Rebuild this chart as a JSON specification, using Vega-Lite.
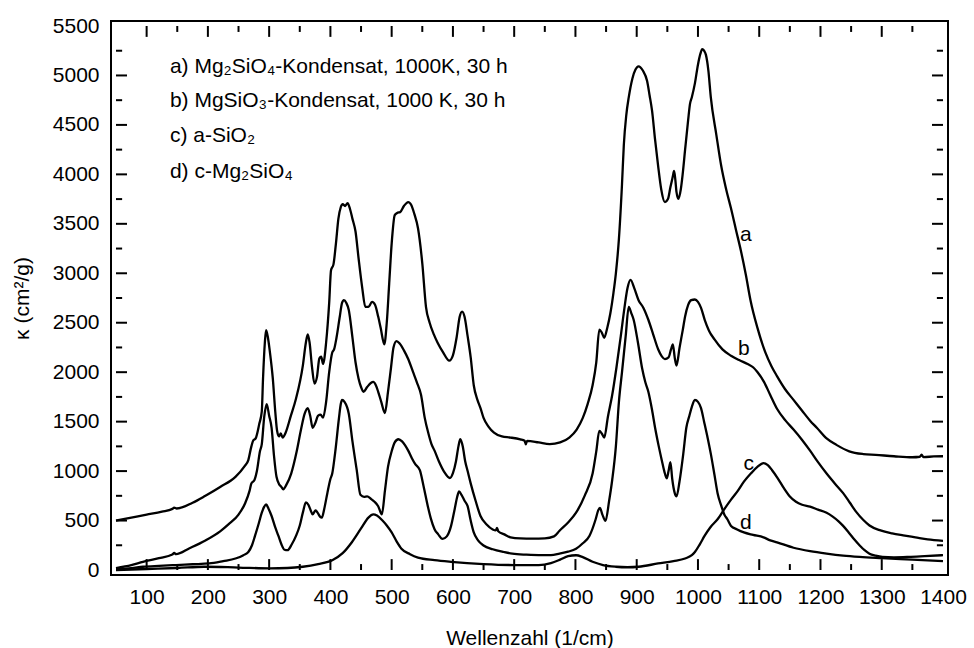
{
  "$schema": "https://vega.github.io/schema/vega-lite/v6.json",
  "width": 837,
  "height": 554,
  "autosize": {"type": "none"},
  "padding": {"left": 111, "top": 21, "right": 26, "bottom": 73},
  "background": "white",
  "config": {
    "view": {"stroke": "black", "strokeWidth": 2},
    "font": "Liberation Sans",
    "axis": {
      "domain": false,
      "ticks": false,
      "grid": false,
      "labelColor": "black",
      "labelFont": "Liberation Sans",
      "labelFontSize": 21,
      "titleFont": "Liberation Sans",
      "titleFontSize": 21,
      "titleFontWeight": "normal",
      "titleColor": "black",
      "labelFlush": false,
      "labelOverlap": false
    }
  },
  "resolve": {"axis": {"x": "independent", "y": "independent"}},
  "datasets": {
    "curves": [
      {"s":"a","x":50,"y":500},{"s":"a","x":75,"y":530},{"s":"a","x":100,"y":560},{"s":"a","x":125,"y":590},{"s":"a","x":142,"y":618},{"s":"a","x":145,"y":630},{"s":"a","x":149,"y":622},{"s":"a","x":175,"y":680},{"s":"a","x":196,"y":751},{"s":"a","x":220,"y":840},{"s":"a","x":245,"y":942},{"s":"a","x":260,"y":1050},{"s":"a","x":266,"y":1111},{"s":"a","x":271,"y":1250},{"s":"a","x":274,"y":1309},{"s":"a","x":278,"y":1330},{"s":"a","x":284,"y":1480},{"s":"a","x":288,"y":1604},{"s":"a","x":290,"y":1934},{"s":"a","x":293,"y":2300},{"s":"a","x":295,"y":2424},{"s":"a","x":298,"y":2350},{"s":"a","x":301,"y":2215},{"s":"a","x":306,"y":1934},{"s":"a","x":310,"y":1600},{"s":"a","x":313,"y":1406},{"s":"a","x":316,"y":1350},{"s":"a","x":319,"y":1380},{"s":"a","x":322,"y":1339},{"s":"a","x":327,"y":1390},{"s":"a","x":335,"y":1550},{"s":"a","x":344,"y":1736},{"s":"a","x":355,"y":2067},{"s":"a","x":360,"y":2300},{"s":"a","x":363,"y":2381},{"s":"a","x":366,"y":2300},{"s":"a","x":370,"y":2050},{"s":"a","x":374,"y":1885},{"s":"a","x":378,"y":1950},{"s":"a","x":382,"y":2140},{"s":"a","x":385,"y":2156},{"s":"a","x":388,"y":2083},{"s":"a","x":393,"y":2300},{"s":"a","x":398,"y":2700},{"s":"a","x":401,"y":3030},{"s":"a","x":405,"y":3090},{"s":"a","x":409,"y":3300},{"s":"a","x":413,"y":3550},{"s":"a","x":417,"y":3670},{"s":"a","x":420,"y":3700},{"s":"a","x":424,"y":3680},{"s":"a","x":428,"y":3710},{"s":"a","x":432,"y":3650},{"s":"a","x":436,"y":3550},{"s":"a","x":441,"y":3422},{"s":"a","x":446,"y":3150},{"s":"a","x":452,"y":2850},{"s":"a","x":457,"y":2661},{"s":"a","x":462,"y":2660},{"s":"a","x":468,"y":2711},{"s":"a","x":473,"y":2680},{"s":"a","x":478,"y":2562},{"s":"a","x":482,"y":2450},{"s":"a","x":488,"y":2282},{"s":"a","x":492,"y":2500},{"s":"a","x":496,"y":2900},{"s":"a","x":500,"y":3300},{"s":"a","x":505,"y":3588},{"s":"a","x":509,"y":3610},{"s":"a","x":514,"y":3620},{"s":"a","x":520,"y":3680},{"s":"a","x":527,"y":3720},{"s":"a","x":532,"y":3690},{"s":"a","x":537,"y":3600},{"s":"a","x":543,"y":3455},{"s":"a","x":550,"y":3100},{"s":"a","x":556,"y":2661},{"s":"a","x":562,"y":2500},{"s":"a","x":569,"y":2380},{"s":"a","x":575,"y":2298},{"s":"a","x":584,"y":2200},{"s":"a","x":594,"y":2116},{"s":"a","x":600,"y":2170},{"s":"a","x":606,"y":2350},{"s":"a","x":611,"y":2560},{"s":"a","x":615,"y":2612},{"s":"a","x":619,"y":2560},{"s":"a","x":624,"y":2364},{"s":"a","x":629,"y":2150},{"s":"a","x":634,"y":1868},{"s":"a","x":640,"y":1720},{"s":"a","x":645,"y":1637},{"s":"a","x":650,"y":1538},{"s":"a","x":658,"y":1450},{"s":"a","x":667,"y":1389},{"s":"a","x":680,"y":1350},{"s":"a","x":694,"y":1339},{"s":"a","x":710,"y":1320},{"s":"a","x":717,"y":1306},{"s":"a","x":719,"y":1270},{"s":"a","x":721,"y":1306},{"s":"a","x":740,"y":1290},{"s":"a","x":758,"y":1273},{"s":"a","x":775,"y":1290},{"s":"a","x":790,"y":1339},{"s":"a","x":802,"y":1420},{"s":"a","x":812,"y":1538},{"s":"a","x":820,"y":1680},{"s":"a","x":828,"y":1868},{"s":"a","x":834,"y":2100},{"s":"a","x":839,"y":2430},{"s":"a","x":843,"y":2400},{"s":"a","x":847,"y":2348},{"s":"a","x":852,"y":2450},{"s":"a","x":857,"y":2596},{"s":"a","x":862,"y":2800},{"s":"a","x":866,"y":3000},{"s":"a","x":871,"y":3350},{"s":"a","x":876,"y":3900},{"s":"a","x":879,"y":4300},{"s":"a","x":883,"y":4600},{"s":"a","x":887,"y":4778},{"s":"a","x":893,"y":4970},{"s":"a","x":898,"y":5060},{"s":"a","x":903,"y":5092},{"s":"a","x":910,"y":5050},{"s":"a","x":917,"y":4943},{"s":"a","x":921,"y":4800},{"s":"a","x":925,"y":4646},{"s":"a","x":930,"y":4350},{"s":"a","x":935,"y":4084},{"s":"a","x":940,"y":3850},{"s":"a","x":946,"y":3720},{"s":"a","x":951,"y":3750},{"s":"a","x":955,"y":3870},{"s":"a","x":959,"y":3980},{"s":"a","x":961,"y":4034},{"s":"a","x":963,"y":3950},{"s":"a","x":965,"y":3820},{"s":"a","x":968,"y":3753},{"s":"a","x":972,"y":3850},{"s":"a","x":975,"y":4000},{"s":"a","x":979,"y":4249},{"s":"a","x":984,"y":4550},{"s":"a","x":987,"y":4712},{"s":"a","x":990,"y":4780},{"s":"a","x":995,"y":4920},{"s":"a","x":1000,"y":5109},{"s":"a","x":1004,"y":5220},{"s":"a","x":1007,"y":5267},{"s":"a","x":1010,"y":5250},{"s":"a","x":1013,"y":5208},{"s":"a","x":1017,"y":5050},{"s":"a","x":1021,"y":4778},{"s":"a","x":1030,"y":4400},{"s":"a","x":1038,"y":4084},{"s":"a","x":1046,"y":3850},{"s":"a","x":1054,"y":3654},{"s":"a","x":1062,"y":3440},{"s":"a","x":1070,"y":3230},{"s":"a","x":1078,"y":2990},{"s":"a","x":1086,"y":2720},{"s":"a","x":1097,"y":2450},{"s":"a","x":1110,"y":2200},{"s":"a","x":1120,"y":2060},{"s":"a","x":1129,"y":1960},{"s":"a","x":1142,"y":1830},{"s":"a","x":1156,"y":1720},{"s":"a","x":1170,"y":1610},{"s":"a","x":1183,"y":1510},{"s":"a","x":1194,"y":1438},{"s":"a","x":1210,"y":1330},{"s":"a","x":1226,"y":1265},{"s":"a","x":1247,"y":1200},{"s":"a","x":1270,"y":1172},{"s":"a","x":1290,"y":1164},{"s":"a","x":1320,"y":1150},{"s":"a","x":1350,"y":1140},{"s":"a","x":1362,"y":1145},{"s":"a","x":1365,"y":1165},{"s":"a","x":1368,"y":1142},{"s":"a","x":1385,"y":1148},{"s":"a","x":1400,"y":1150},
      {"s":"b","x":50,"y":20},{"s":"b","x":75,"y":50},{"s":"b","x":94,"y":83},{"s":"b","x":120,"y":120},{"s":"b","x":142,"y":156},{"s":"b","x":145,"y":172},{"s":"b","x":148,"y":160},{"s":"b","x":170,"y":220},{"s":"b","x":196,"y":298},{"s":"b","x":220,"y":390},{"s":"b","x":234,"y":463},{"s":"b","x":250,"y":560},{"s":"b","x":261,"y":678},{"s":"b","x":268,"y":800},{"s":"b","x":271,"y":876},{"s":"b","x":276,"y":910},{"s":"b","x":280,"y":1000},{"s":"b","x":285,"y":1200},{"s":"b","x":288,"y":1273},{"s":"b","x":292,"y":1550},{"s":"b","x":296,"y":1676},{"s":"b","x":300,"y":1560},{"s":"b","x":304,"y":1438},{"s":"b","x":308,"y":1150},{"s":"b","x":312,"y":942},{"s":"b","x":317,"y":860},{"s":"b","x":320,"y":840},{"s":"b","x":323,"y":816},{"s":"b","x":328,"y":860},{"s":"b","x":336,"y":975},{"s":"b","x":345,"y":1200},{"s":"b","x":352,"y":1420},{"s":"b","x":358,"y":1580},{"s":"b","x":363,"y":1637},{"s":"b","x":367,"y":1560},{"s":"b","x":371,"y":1438},{"s":"b","x":375,"y":1480},{"s":"b","x":380,"y":1560},{"s":"b","x":384,"y":1570},{"s":"b","x":388,"y":1540},{"s":"b","x":393,"y":1700},{"s":"b","x":398,"y":2000},{"s":"b","x":403,"y":2199},{"s":"b","x":406,"y":2230},{"s":"b","x":410,"y":2350},{"s":"b","x":415,"y":2550},{"s":"b","x":419,"y":2700},{"s":"b","x":422,"y":2728},{"s":"b","x":426,"y":2700},{"s":"b","x":430,"y":2629},{"s":"b","x":436,"y":2350},{"s":"b","x":441,"y":2100},{"s":"b","x":446,"y":1934},{"s":"b","x":450,"y":1850},{"s":"b","x":454,"y":1802},{"s":"b","x":460,"y":1850},{"s":"b","x":466,"y":1890},{"s":"b","x":470,"y":1901},{"s":"b","x":474,"y":1870},{"s":"b","x":478,"y":1802},{"s":"b","x":483,"y":1700},{"s":"b","x":489,"y":1587},{"s":"b","x":494,"y":1800},{"s":"b","x":499,"y":2050},{"s":"b","x":503,"y":2250},{"s":"b","x":508,"y":2314},{"s":"b","x":513,"y":2290},{"s":"b","x":520,"y":2220},{"s":"b","x":527,"y":2133},{"s":"b","x":535,"y":2000},{"s":"b","x":541,"y":1900},{"s":"b","x":548,"y":1769},{"s":"b","x":554,"y":1538},{"s":"b","x":560,"y":1380},{"s":"b","x":565,"y":1273},{"s":"b","x":570,"y":1207},{"s":"b","x":577,"y":1100},{"s":"b","x":586,"y":990},{"s":"b","x":595,"y":930},{"s":"b","x":600,"y":980},{"s":"b","x":605,"y":1100},{"s":"b","x":609,"y":1250},{"s":"b","x":612,"y":1322},{"s":"b","x":616,"y":1250},{"s":"b","x":620,"y":1100},{"s":"b","x":624,"y":1000},{"s":"b","x":629,"y":876},{"s":"b","x":637,"y":700},{"s":"b","x":645,"y":546},{"s":"b","x":655,"y":460},{"s":"b","x":665,"y":410},{"s":"b","x":670,"y":400},{"s":"b","x":672,"y":425},{"s":"b","x":674,"y":392},{"s":"b","x":684,"y":360},{"s":"b","x":694,"y":330},{"s":"b","x":710,"y":320},{"s":"b","x":730,"y":318},{"s":"b","x":750,"y":320},{"s":"b","x":765,"y":340},{"s":"b","x":774,"y":397},{"s":"b","x":788,"y":480},{"s":"b","x":801,"y":579},{"s":"b","x":815,"y":750},{"s":"b","x":828,"y":975},{"s":"b","x":834,"y":1200},{"s":"b","x":839,"y":1406},{"s":"b","x":843,"y":1380},{"s":"b","x":847,"y":1339},{"s":"b","x":853,"y":1550},{"s":"b","x":860,"y":1769},{"s":"b","x":867,"y":2050},{"s":"b","x":874,"y":2364},{"s":"b","x":880,"y":2650},{"s":"b","x":885,"y":2850},{"s":"b","x":890,"y":2933},{"s":"b","x":896,"y":2850},{"s":"b","x":903,"y":2728},{"s":"b","x":911,"y":2650},{"s":"b","x":919,"y":2530},{"s":"b","x":927,"y":2380},{"s":"b","x":935,"y":2232},{"s":"b","x":941,"y":2160},{"s":"b","x":946,"y":2133},{"s":"b","x":952,"y":2150},{"s":"b","x":956,"y":2230},{"s":"b","x":959,"y":2282},{"s":"b","x":962,"y":2150},{"s":"b","x":965,"y":2067},{"s":"b","x":970,"y":2250},{"s":"b","x":975,"y":2420},{"s":"b","x":979,"y":2563},{"s":"b","x":984,"y":2680},{"s":"b","x":989,"y":2728},{"s":"b","x":995,"y":2735},{"s":"b","x":1000,"y":2711},{"s":"b","x":1005,"y":2650},{"s":"b","x":1011,"y":2530},{"s":"b","x":1018,"y":2420},{"s":"b","x":1027,"y":2331},{"s":"b","x":1040,"y":2230},{"s":"b","x":1054,"y":2166},{"s":"b","x":1068,"y":2120},{"s":"b","x":1081,"y":2083},{"s":"b","x":1090,"y":2050},{"s":"b","x":1097,"y":2001},{"s":"b","x":1108,"y":1900},{"s":"b","x":1118,"y":1769},{"s":"b","x":1129,"y":1630},{"s":"b","x":1143,"y":1510},{"s":"b","x":1156,"y":1420},{"s":"b","x":1170,"y":1315},{"s":"b","x":1183,"y":1207},{"s":"b","x":1196,"y":1090},{"s":"b","x":1210,"y":975},{"s":"b","x":1224,"y":870},{"s":"b","x":1237,"y":777},{"s":"b","x":1248,"y":680},{"s":"b","x":1258,"y":590},{"s":"b","x":1270,"y":505},{"s":"b","x":1280,"y":450},{"s":"b","x":1298,"y":400},{"s":"b","x":1317,"y":370},{"s":"b","x":1335,"y":350},{"s":"b","x":1355,"y":330},{"s":"b","x":1375,"y":310},{"s":"b","x":1400,"y":295},
      {"s":"c","x":50,"y":0},{"s":"c","x":100,"y":10},{"s":"c","x":150,"y":20},{"s":"c","x":194,"y":33},{"s":"c","x":250,"y":25},{"s":"c","x":301,"y":17},{"s":"c","x":330,"y":20},{"s":"c","x":355,"y":33},{"s":"c","x":380,"y":60},{"s":"c","x":403,"y":99},{"s":"c","x":420,"y":170},{"s":"c","x":435,"y":281},{"s":"c","x":450,"y":420},{"s":"c","x":462,"y":530},{"s":"c","x":470,"y":562},{"s":"c","x":476,"y":550},{"s":"c","x":485,"y":500},{"s":"c","x":492,"y":450},{"s":"c","x":500,"y":380},{"s":"c","x":508,"y":290},{"s":"c","x":516,"y":215},{"s":"c","x":530,"y":160},{"s":"c","x":543,"y":126},{"s":"c","x":570,"y":100},{"s":"c","x":597,"y":83},{"s":"c","x":650,"y":60},{"s":"c","x":700,"y":50},{"s":"c","x":740,"y":50},{"s":"c","x":760,"y":70},{"s":"c","x":775,"y":105},{"s":"c","x":788,"y":140},{"s":"c","x":801,"y":149},{"s":"c","x":812,"y":130},{"s":"c","x":828,"y":83},{"s":"c","x":845,"y":50},{"s":"c","x":866,"y":33},{"s":"c","x":885,"y":28},{"s":"c","x":903,"y":33},{"s":"c","x":935,"y":66},{"s":"c","x":960,"y":90},{"s":"c","x":979,"y":116},{"s":"c","x":990,"y":150},{"s":"c","x":995,"y":182},{"s":"c","x":1003,"y":260},{"s":"c","x":1011,"y":347},{"s":"c","x":1020,"y":430},{"s":"c","x":1032,"y":513},{"s":"c","x":1043,"y":615},{"s":"c","x":1054,"y":711},{"s":"c","x":1065,"y":800},{"s":"c","x":1075,"y":893},{"s":"c","x":1087,"y":980},{"s":"c","x":1097,"y":1042},{"s":"c","x":1107,"y":1081},{"s":"c","x":1114,"y":1060},{"s":"c","x":1121,"y":1009},{"s":"c","x":1130,"y":930},{"s":"c","x":1140,"y":830},{"s":"c","x":1150,"y":744},{"s":"c","x":1160,"y":690},{"s":"c","x":1170,"y":660},{"s":"c","x":1183,"y":640},{"s":"c","x":1196,"y":610},{"s":"c","x":1210,"y":579},{"s":"c","x":1220,"y":540},{"s":"c","x":1230,"y":490},{"s":"c","x":1237,"y":446},{"s":"c","x":1246,"y":380},{"s":"c","x":1255,"y":310},{"s":"c","x":1264,"y":248},{"s":"c","x":1272,"y":200},{"s":"c","x":1280,"y":165},{"s":"c","x":1290,"y":145},{"s":"c","x":1301,"y":132},{"s":"c","x":1320,"y":128},{"s":"c","x":1344,"y":132},{"s":"c","x":1370,"y":140},{"s":"c","x":1400,"y":150},
      {"s":"d","x":50,"y":10},{"s":"d","x":75,"y":20},{"s":"d","x":94,"y":33},{"s":"d","x":120,"y":42},{"s":"d","x":148,"y":50},{"s":"d","x":175,"y":58},{"s":"d","x":202,"y":66},{"s":"d","x":225,"y":90},{"s":"d","x":245,"y":116},{"s":"d","x":258,"y":150},{"s":"d","x":266,"y":182},{"s":"d","x":272,"y":250},{"s":"d","x":277,"y":347},{"s":"d","x":283,"y":470},{"s":"d","x":288,"y":579},{"s":"d","x":292,"y":640},{"s":"d","x":295,"y":662},{"s":"d","x":299,"y":620},{"s":"d","x":304,"y":546},{"s":"d","x":310,"y":430},{"s":"d","x":315,"y":347},{"s":"d","x":320,"y":260},{"s":"d","x":325,"y":205},{"s":"d","x":330,"y":200},{"s":"d","x":337,"y":260},{"s":"d","x":344,"y":347},{"s":"d","x":350,"y":450},{"s":"d","x":355,"y":580},{"s":"d","x":360,"y":684},{"s":"d","x":364,"y":660},{"s":"d","x":368,"y":600},{"s":"d","x":371,"y":562},{"s":"d","x":374,"y":590},{"s":"d","x":376,"y":602},{"s":"d","x":379,"y":580},{"s":"d","x":383,"y":540},{"s":"d","x":386,"y":529},{"s":"d","x":390,"y":620},{"s":"d","x":395,"y":777},{"s":"d","x":400,"y":920},{"s":"d","x":403,"y":975},{"s":"d","x":408,"y":1200},{"s":"d","x":414,"y":1538},{"s":"d","x":417,"y":1680},{"s":"d","x":419,"y":1719},{"s":"d","x":423,"y":1700},{"s":"d","x":430,"y":1580},{"s":"d","x":436,"y":1300},{"s":"d","x":443,"y":1009},{"s":"d","x":449,"y":760},{"s":"d","x":455,"y":740},{"s":"d","x":460,"y":744},{"s":"d","x":466,"y":720},{"s":"d","x":472,"y":690},{"s":"d","x":478,"y":645},{"s":"d","x":484,"y":562},{"s":"d","x":489,"y":800},{"s":"d","x":494,"y":1042},{"s":"d","x":500,"y":1200},{"s":"d","x":505,"y":1290},{"s":"d","x":511,"y":1322},{"s":"d","x":517,"y":1300},{"s":"d","x":522,"y":1260},{"s":"d","x":527,"y":1207},{"s":"d","x":533,"y":1130},{"s":"d","x":538,"y":1075},{"s":"d","x":546,"y":1009},{"s":"d","x":552,"y":850},{"s":"d","x":559,"y":645},{"s":"d","x":564,"y":520},{"s":"d","x":570,"y":413},{"s":"d","x":576,"y":360},{"s":"d","x":583,"y":314},{"s":"d","x":590,"y":340},{"s":"d","x":597,"y":446},{"s":"d","x":603,"y":620},{"s":"d","x":607,"y":740},{"s":"d","x":610,"y":794},{"s":"d","x":614,"y":760},{"s":"d","x":619,"y":700},{"s":"d","x":624,"y":645},{"s":"d","x":629,"y":500},{"s":"d","x":634,"y":380},{"s":"d","x":641,"y":300},{"s":"d","x":650,"y":248},{"s":"d","x":665,"y":210},{"s":"d","x":683,"y":182},{"s":"d","x":697,"y":165},{"s":"d","x":720,"y":155},{"s":"d","x":745,"y":150},{"s":"d","x":760,"y":150},{"s":"d","x":774,"y":165},{"s":"d","x":788,"y":185},{"s":"d","x":801,"y":215},{"s":"d","x":812,"y":270},{"s":"d","x":823,"y":347},{"s":"d","x":833,"y":513},{"s":"d","x":837,"y":600},{"s":"d","x":840,"y":628},{"s":"d","x":844,"y":560},{"s":"d","x":849,"y":496},{"s":"d","x":855,"y":700},{"s":"d","x":860,"y":910},{"s":"d","x":866,"y":1250},{"s":"d","x":871,"y":1703},{"s":"d","x":876,"y":2000},{"s":"d","x":882,"y":2364},{"s":"d","x":887,"y":2661},{"s":"d","x":891,"y":2600},{"s":"d","x":895,"y":2530},{"s":"d","x":902,"y":2300},{"s":"d","x":909,"y":2034},{"s":"d","x":914,"y":1900},{"s":"d","x":919,"y":1802},{"s":"d","x":925,"y":1620},{"s":"d","x":930,"y":1438},{"s":"d","x":936,"y":1250},{"s":"d","x":941,"y":1108},{"s":"d","x":945,"y":1000},{"s":"d","x":949,"y":926},{"s":"d","x":952,"y":1000},{"s":"d","x":955,"y":1091},{"s":"d","x":958,"y":920},{"s":"d","x":962,"y":780},{"s":"d","x":965,"y":744},{"s":"d","x":970,"y":900},{"s":"d","x":976,"y":1174},{"s":"d","x":981,"y":1438},{"s":"d","x":986,"y":1560},{"s":"d","x":990,"y":1650},{"s":"d","x":995,"y":1719},{"s":"d","x":1000,"y":1700},{"s":"d","x":1005,"y":1637},{"s":"d","x":1010,"y":1500},{"s":"d","x":1016,"y":1330},{"s":"d","x":1021,"y":1174},{"s":"d","x":1027,"y":960},{"s":"d","x":1032,"y":777},{"s":"d","x":1038,"y":650},{"s":"d","x":1043,"y":562},{"s":"d","x":1048,"y":513},{"s":"d","x":1054,"y":446},{"s":"d","x":1064,"y":410},{"s":"d","x":1075,"y":380},{"s":"d","x":1090,"y":355},{"s":"d","x":1107,"y":330},{"s":"d","x":1118,"y":300},{"s":"d","x":1129,"y":280},{"s":"d","x":1156,"y":225},{"s":"d","x":1183,"y":190},{"s":"d","x":1210,"y":165},{"s":"d","x":1237,"y":145},{"s":"d","x":1264,"y":132},{"s":"d","x":1300,"y":120},{"s":"d","x":1350,"y":105},{"s":"d","x":1400,"y":90}
    ],
    "labels": [
      {"t":"a","x":1078,"y":3390},
      {"t":"b","x":1075,"y":2232},
      {"t":"c","x":1083,"y":1075},
      {"t":"d","x":1078,"y":479}
    ],
    "legend": [
      {"t":"a) Mg₂SiO₄-Kondensat, 1000K, 30 h","x":138,"y":5089},
      {"t":"b) MgSiO₃-Kondensat, 1000 K, 30 h","x":138,"y":4742},
      {"t":"c) a-SiO₂","x":138,"y":4385},
      {"t":"d) c-Mg₂SiO₄","x":138,"y":4028}
    ],
    "xmajor": [{"v":100},{"v":200},{"v":300},{"v":400},{"v":500},{"v":600},{"v":700},{"v":800},{"v":900},{"v":1000},{"v":1100},{"v":1200},{"v":1300}],
    "xminor": [{"v":150},{"v":250},{"v":350},{"v":450},{"v":550},{"v":650},{"v":750},{"v":850},{"v":950},{"v":1050},{"v":1150},{"v":1250},{"v":1350}],
    "ymajor": [{"v":500},{"v":1000},{"v":1500},{"v":2000},{"v":2500},{"v":3000},{"v":3500},{"v":4000},{"v":4500},{"v":5000}],
    "yminor": [{"v":250},{"v":750},{"v":1250},{"v":1750},{"v":2250},{"v":2750},{"v":3250},{"v":3750},{"v":4250},{"v":4750},{"v":5250}]
  },
  "layer": [
    {
      "data": {"name": "xmajor"},
      "mark": {"type": "bar", "orient": "vertical", "color": "black", "width": 2},
      "encoding": {
        "x": {"field": "v", "type": "quantitative", "axis": null},
        "y": {"datum": 0, "type": "quantitative", "axis": null},
        "y2": {"datum": 110}
      }
    },
    {
      "data": {"name": "xmajor"},
      "mark": {"type": "bar", "orient": "vertical", "color": "black", "width": 2},
      "encoding": {
        "x": {"field": "v", "type": "quantitative", "axis": null},
        "y": {"datum": 5390, "type": "quantitative", "axis": null},
        "y2": {"datum": 5500}
      }
    },
    {
      "data": {"name": "xminor"},
      "mark": {"type": "bar", "orient": "vertical", "color": "black", "width": 2},
      "encoding": {
        "x": {"field": "v", "type": "quantitative", "axis": null},
        "y": {"datum": 0, "type": "quantitative", "axis": null},
        "y2": {"datum": 60}
      }
    },
    {
      "data": {"name": "xminor"},
      "mark": {"type": "bar", "orient": "vertical", "color": "black", "width": 2},
      "encoding": {
        "x": {"field": "v", "type": "quantitative", "axis": null},
        "y": {"datum": 5440, "type": "quantitative", "axis": null},
        "y2": {"datum": 5500}
      }
    },
    {
      "data": {"name": "ymajor"},
      "mark": {"type": "bar", "orient": "horizontal", "color": "black", "height": 2},
      "encoding": {
        "y": {"field": "v", "type": "quantitative", "axis": null},
        "x": {"datum": 50, "type": "quantitative", "axis": null},
        "x2": {"datum": 68}
      }
    },
    {
      "data": {"name": "ymajor"},
      "mark": {"type": "bar", "orient": "horizontal", "color": "black", "height": 2},
      "encoding": {
        "y": {"field": "v", "type": "quantitative", "axis": null},
        "x": {"datum": 1382, "type": "quantitative", "axis": null},
        "x2": {"datum": 1400}
      }
    },
    {
      "data": {"name": "yminor"},
      "mark": {"type": "bar", "orient": "horizontal", "color": "black", "height": 2},
      "encoding": {
        "y": {"field": "v", "type": "quantitative", "axis": null},
        "x": {"datum": 50, "type": "quantitative", "axis": null},
        "x2": {"datum": 60}
      }
    },
    {
      "data": {"name": "yminor"},
      "mark": {"type": "bar", "orient": "horizontal", "color": "black", "height": 2},
      "encoding": {
        "y": {"field": "v", "type": "quantitative", "axis": null},
        "x": {"datum": 1390, "type": "quantitative", "axis": null},
        "x2": {"datum": 1400}
      }
    },
    {
      "data": {"name": "curves"},
      "mark": {"type": "line", "color": "black", "strokeWidth": 2.3, "interpolate": "monotone"},
      "encoding": {
        "x": {"field": "x", "type": "quantitative",
          "scale": {"domain": [50, 1400], "nice": false, "zero": false},
          "axis": {"orient": "bottom", "values": [100,200,300,400,500,600,700,800,900,1000,1100,1200,1300,1400],
            "labelPadding": 11, "format": "d", "title": "Wellenzahl (1/cm)", "titlePadding": 20}},
        "y": {"field": "y", "type": "quantitative",
          "scale": {"domain": [0, 5500], "nice": false, "zero": false},
          "axis": {"orient": "left", "values": [0,500,1000,1500,2000,2500,3000,3500,4000,4500,5000,5500],
            "labelPadding": 12, "format": "d", "title": "κ (cm²/g)", "titlePadding": 20}},
        "detail": {"field": "s"}
      }
    },
    {
      "data": {"name": "legend"},
      "mark": {"type": "text", "color": "black", "fontSize": 21, "font": "Liberation Sans", "align": "left", "baseline": "middle"},
      "encoding": {
        "x": {"field": "x", "type": "quantitative", "axis": null},
        "y": {"field": "y", "type": "quantitative", "axis": null},
        "text": {"field": "t"}
      }
    },
    {
      "data": {"name": "labels"},
      "mark": {"type": "text", "color": "black", "fontSize": 21, "font": "Liberation Sans", "align": "center", "baseline": "middle"},
      "encoding": {
        "x": {"field": "x", "type": "quantitative", "axis": null},
        "y": {"field": "y", "type": "quantitative", "axis": null},
        "text": {"field": "t"}
      }
    }
  ]
}
